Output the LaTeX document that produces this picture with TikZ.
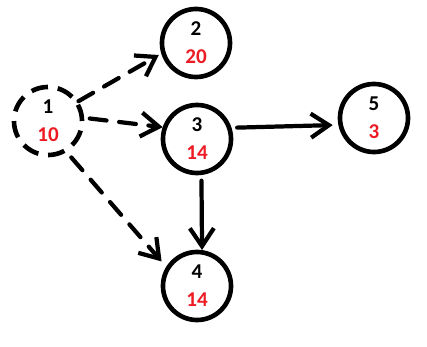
\documentclass[tikz,border=0pt]{standalone}
\usepackage{fontspec}
\setmainfont{Carlito}
\usetikzlibrary{arrows.meta}
\definecolor{valred}{RGB}{237,28,36}

\begin{document}
\begin{tikzpicture}[x=0.025cm,y=-0.025cm,
    vertex/.style={circle,draw,line width=3.3pt,minimum size=1.7cm,inner sep=0pt,align=center,font=\fontsize{15}{17}\selectfont\bfseries},
    edge/.style={line width=3pt,line cap=round,-{Straight Barb[length=4.5mm,width=6mm]}},
    dashedge/.style={edge,dash pattern=on 12pt off 9pt}]
    \useasboundingbox (0,0) rectangle (427,347);
    \node [vertex,dash pattern=on 12pt off 7pt] (n1) at (48,121) {1\\[3pt]\textcolor{valred}{10}};
    \node [vertex] (n2) at (196,43) {2\\[3pt]\textcolor{valred}{20}};
    \node [vertex] (n3) at (197,139) {3\\[3pt]\textcolor{valred}{14}};
    \node [vertex] (n4) at (197,286) {4\\[3pt]\textcolor{valred}{14}};
    \node [vertex] (n5) at (374,118) {5\\[3pt]\textcolor{valred}{3}};
    \draw [dashedge,shorten >=2pt] (n1.33) -- (n2.197);
    \draw [dashedge,shorten <=4pt] (n1.5) -- (n3.161);
    \draw [dashedge,shorten <=5pt,shorten >=5pt] (n1.-59) -- (n4.148);
    \draw [edge,shorten <=4pt,shorten >=4pt] (n3.18) -- (n5.191);
    \draw [edge,shorten <=4pt] (n3.-83) -- (n4.82);
\end{tikzpicture}
\end{document}
